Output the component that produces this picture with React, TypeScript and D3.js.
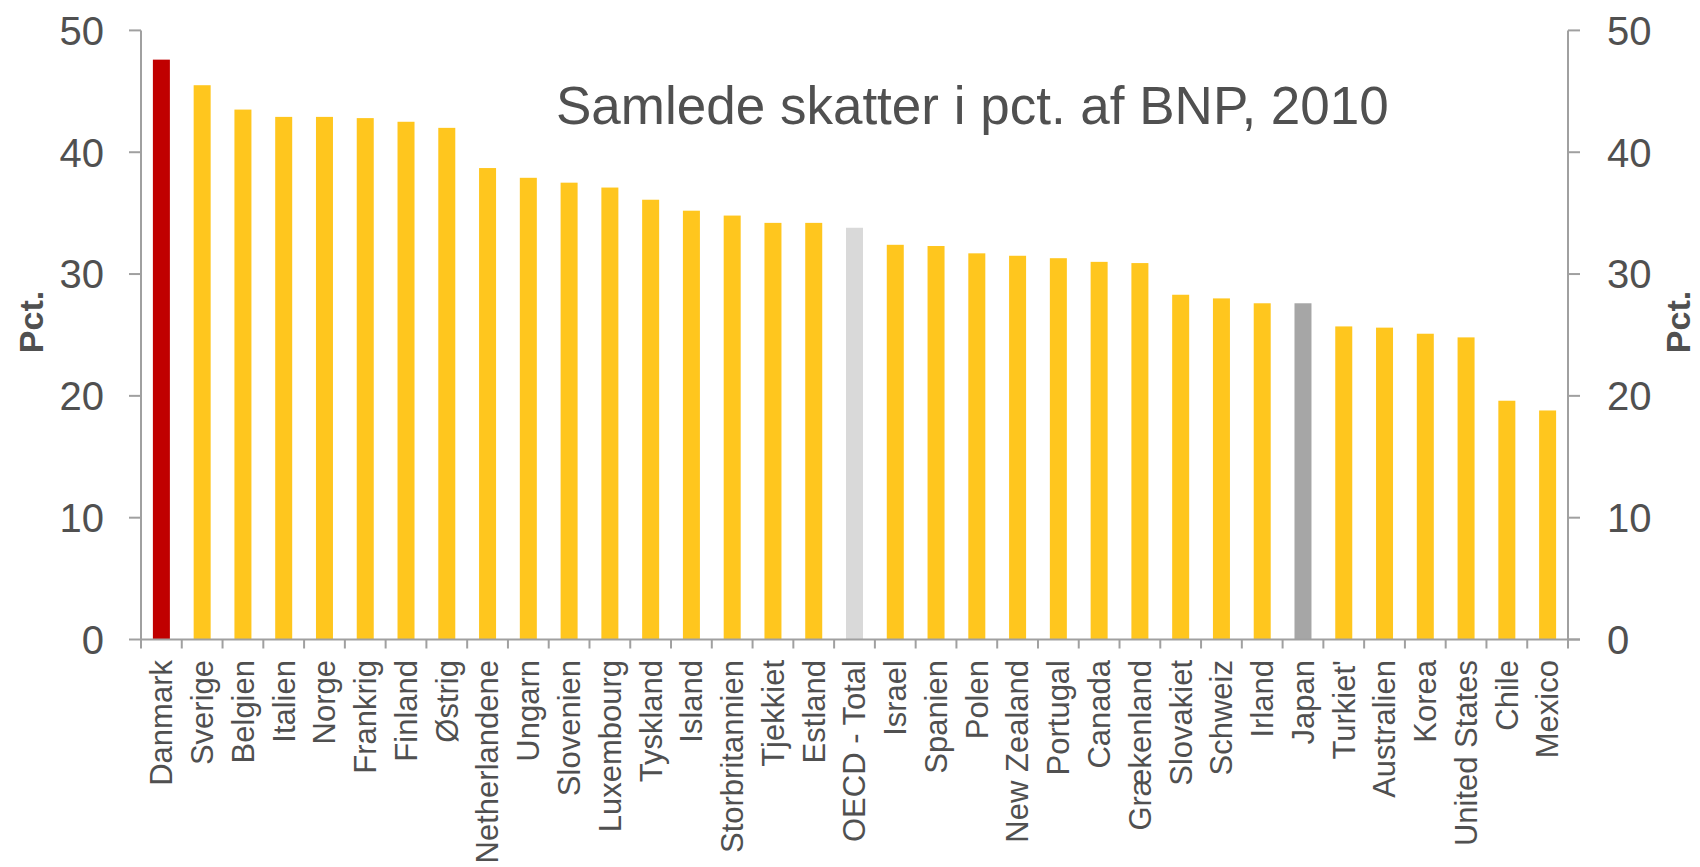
import React from "react";
import * as d3 from "d3";

const countries = [
  "Danmark", "Sverige", "Belgien", "Italien", "Norge", "Frankrig", "Finland", "Østrig",
  "Netherlandene", "Ungarn", "Slovenien", "Luxembourg", "Tyskland", "Island", "Storbritannien",
  "Tjekkiet", "Estland", "OECD - Total", "Israel", "Spanien", "Polen", "New Zealand", "Portugal",
  "Canada", "Grækenland", "Slovakiet", "Schweiz", "Irland", "Japan", "Turkiet'", "Australien",
  "Korea", "United States", "Chile", "Mexico",
];

const taxShare = [
  47.6, 45.5, 43.5, 42.9, 42.9, 42.8, 42.5, 42.0,
  38.7, 37.9, 37.5, 37.1, 36.1, 35.2, 34.8,
  34.2, 34.2, 33.8, 32.4, 32.3, 31.7, 31.5, 31.3,
  31.0, 30.9, 28.3, 28.0, 27.6, 27.6, 25.7, 25.6,
  25.1, 24.8, 19.6, 18.8,
];

const yTicks = [0, 10, 20, 30, 40, 50];

const title = "Samlede skatter i pct. af BNP, 2010";
const axisTitle = "Pct.";

const W = 1700;
const H = 867;
const left = 141;
const right = 1568;
const top = 30.4;
const bottom = 639.5;

const textColor = "#505050";
const axisColor = "#a0a0a0";
const font = "'Liberation Sans', Arial, sans-serif";

function barColor(c: string): string {
  if (c === "Danmark") return "#C00000";
  if (c === "OECD - Total") return "#D9D9D9";
  if (c === "Japan") return "#A6A6A6";
  return "#FFC61E";
}

export default function App() {
  const x = d3.scaleBand<string>().domain(countries).range([left, right]).padding(0);
  const y = d3.scaleLinear().domain([0, 50]).range([bottom, top]);
  const step = x.step();
  const bw = 17;

  return (
    <svg
      width={W}
      height={H}
      style={{ position: "absolute", left: 0, top: 0, background: "#fff" }}
      fontFamily={font}
    >
      <rect x={0} y={0} width={W} height={H} fill="#fff" />
      {/* bars */}
      {countries.map((c, i) => (
        <rect
          key={c}
          x={(x(c) as number) + (step - bw) / 2}
          y={y(taxShare[i])}
          width={bw}
          height={y(0) - y(taxShare[i])}
          fill={barColor(c)}
        />
      ))}
      {/* left axis */}
      <line x1={left} x2={left} y1={top} y2={bottom} stroke={axisColor} strokeWidth={2} />
      {yTicks.map((t) => (
        <g key={"l" + t}>
          <line x1={left - 12} x2={left} y1={y(t)} y2={y(t)} stroke={axisColor} strokeWidth={2} />
          <text x={104} y={y(t)} dy="0.36em" textAnchor="end" fontSize={40} fill={textColor}>
            {t}
          </text>
        </g>
      ))}
      {/* right axis */}
      <line x1={right} x2={right} y1={top} y2={bottom} stroke={axisColor} strokeWidth={2} />
      {yTicks.map((t) => (
        <g key={"r" + t}>
          <line x1={right} x2={right + 12} y1={y(t)} y2={y(t)} stroke={axisColor} strokeWidth={2} />
          <text x={1607} y={y(t)} dy="0.36em" textAnchor="start" fontSize={40} fill={textColor}>
            {t}
          </text>
        </g>
      ))}
      {/* x axis */}
      <line x1={left} x2={right + 12} y1={bottom} y2={bottom} stroke={axisColor} strokeWidth={2} />
      {countries.map((c) => (
        <line
          key={"t" + c}
          x1={x(c) as number}
          x2={x(c) as number}
          y1={bottom}
          y2={bottom + 9}
          stroke={axisColor}
          strokeWidth={2}
        />
      ))}
      <line x1={right} x2={right} y1={bottom} y2={bottom + 9} stroke={axisColor} strokeWidth={2} />
      {countries.map((c) => {
        const cx = (x(c) as number) + step / 2;
        return (
          <text
            key={"x" + c}
            transform={`translate(${cx},660) rotate(-90)`}
            dy="0.35em"
            textAnchor="end"
            fontSize={31}
            fill={textColor}
          >
            {c}
          </text>
        );
      })}
      {/* axis titles */}
      <text
        transform={`translate(43,322) rotate(-90)`}
        textAnchor="middle"
        fontSize={34}
        fontWeight="bold"
        fill={textColor}
      >
        {axisTitle}
      </text>
      <text
        transform={`translate(1690,322) rotate(-90)`}
        textAnchor="middle"
        fontSize={34}
        fontWeight="bold"
        fill={textColor}
      >
        {axisTitle}
      </text>
      {/* title */}
      <text x={556} y={124} fontSize={53} fill={textColor}>
        {title}
      </text>
    </svg>
  );
}
